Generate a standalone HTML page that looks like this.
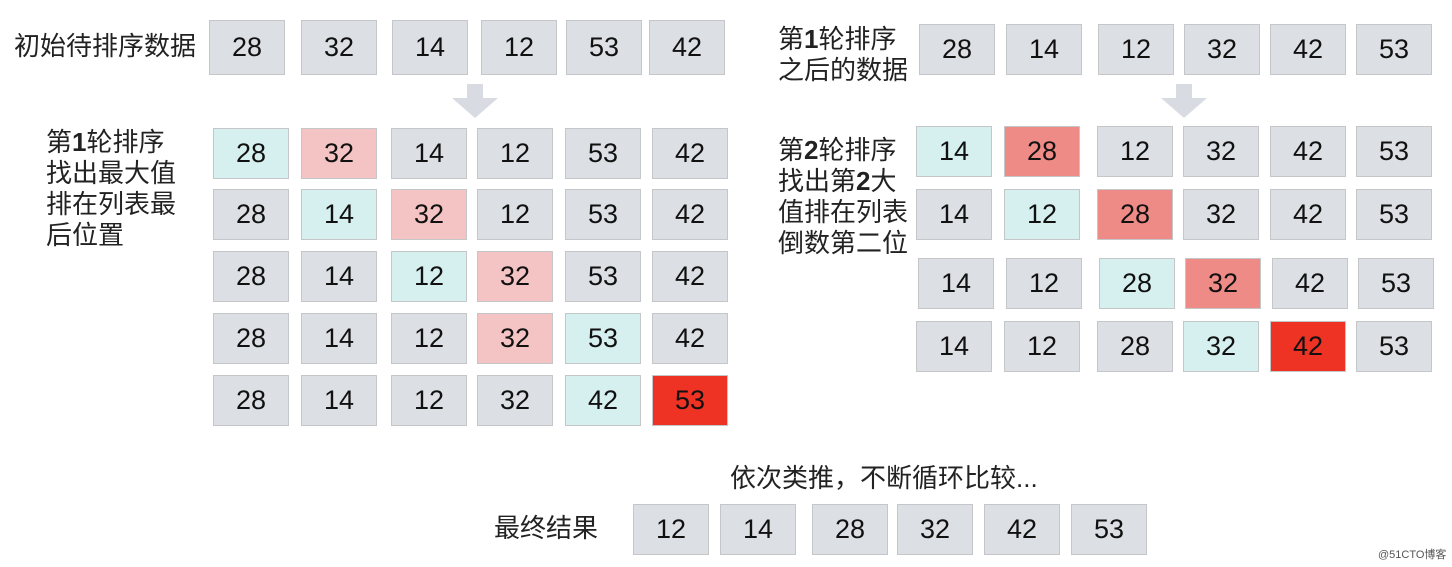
<!DOCTYPE html>
<html><head><meta charset="utf-8">
<style>
body{margin:0;width:1452px;height:567px;background:#fff;position:relative;overflow:hidden;font-family:"Liberation Sans","Noto Sans CJK SC",sans-serif;}
.b{position:absolute;box-sizing:border-box;border:1px solid #c4c6c8;background:#dcdfe3;display:flex;align-items:center;justify-content:center;font-size:27px;color:#111;font-family:"Liberation Sans",sans-serif;}
.t{position:absolute;font-size:26px;color:#222;line-height:31px;white-space:nowrap;}
.arrow{position:absolute;}
</style></head><body>
<div class="t" style="left:14px;top:31px;">初始待排序数据</div>
<div class="t" style="left:46px;top:127px;">第<b>1</b>轮排序<br>找出最大值<br>排在列表最<br>后位置</div>
<div class="t" style="left:778px;top:24px;">第<b>1</b>轮排序<br>之后的数据</div>
<div class="t" style="left:778px;top:135px;">第<b>2</b>轮排序<br>找出第<b>2</b>大<br>值排在列表<br>倒数第二位</div>
<div class="t" style="left:730px;top:463px;">依次类推，不断循环比较...</div>
<div class="t" style="left:494px;top:513px;">最终结果</div>
<div class="t" style="left:1378px;top:548px;font-size:11px;line-height:14px;color:#555;">@51CTO博客</div>
<svg class="arrow" style="left:452px;top:84px" width="46" height="34"><polygon points="15,0 31,0 31,14 46,14 23,34 0,14 15,14" fill="#d8dce2"/></svg>
<svg class="arrow" style="left:1161px;top:84px" width="46" height="34"><polygon points="15,0 31,0 31,14 46,14 23,34 0,14 15,14" fill="#d8dce2"/></svg>
<script>
const initialData=[28,32,14,12,53,42];
const round1Rows=[[28,32,14,12,53,42],[28,14,32,12,53,42],[28,14,12,32,53,42],[28,14,12,32,53,42],[28,14,12,32,42,53]];
const round1Colors=[["c","p"],["g","c","p"],["g","g","c","p"],["g","g","g","p","c"],["g","g","g","g","c","r"]];
const afterRound1=[28,14,12,32,42,53];
const round2Rows=[[14,28,12,32,42,53],[14,12,28,32,42,53],[14,12,28,32,42,53],[14,12,28,32,42,53]];
const round2Colors=[["c","m"],["g","c","m"],["g","g","c","m"],["g","g","g","c","r"]];
const finalData=[12,14,28,32,42,53];
const col={g:"#dcdfe3",c:"#d6f0f0",p:"#f4c4c4",m:"#ef8b86",r:"#ee3224"};
function box(v,x,y,w,h,c,name){
  const d=document.createElement('div');d.className='b';
  
  
  d.style.cssText=`left:${x}px;top:${y}px;width:${w}px;height:${h}px;background:${col[c]||col.g}`;
  d.textContent=v;document.body.appendChild(d);
}
const lx1=[209,301,392,481,566,649];
initialData.forEach((v,i)=>box(v,lx1[i],20,76,55,'g','initial-box'));
const lx=[213,301,391,477,565,652], ly=[128,189,251,313,375];
round1Rows.forEach((r,j)=>r.forEach((v,i)=>box(v,lx[i],ly[j],76,51,round1Colors[j][i],'round1-box')));
const rx1=[919,1006,1098,1184,1270,1356];
afterRound1.forEach((v,i)=>box(v,rx1[i],24,76,51,'g','after-round1-box'));
const rx=[916,1004,1097,1183,1270,1356], ry=[126,189,258,321];
round2Rows.forEach((r,j)=>r.forEach((v,i)=>box(v,rx[i]+(j==2?2:0),ry[j],76,51,round2Colors[j][i],'round2-box')));
const fx=[633,720,812,897,984,1071];
finalData.forEach((v,i)=>box(v,fx[i],504,76,51,'g','final-box'));
</script>
</body></html>
